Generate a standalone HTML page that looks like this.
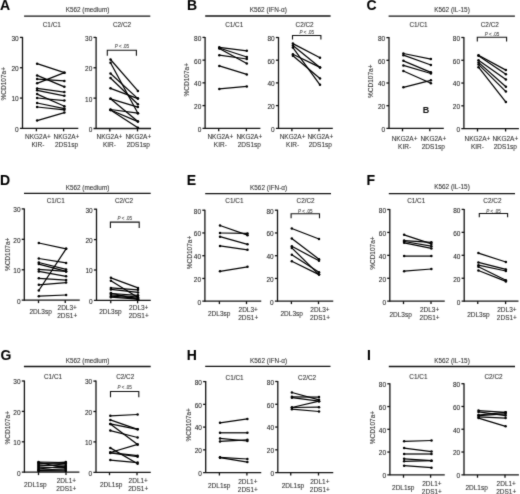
<!DOCTYPE html><html><head><meta charset="utf-8"><style>html,body{margin:0;padding:0;background:#fff;}svg{display:block;will-change:transform;}text{font-family:"Liberation Sans", sans-serif;stroke:#444;stroke-width:0.1px;}</style></head><body>
<svg width="520" height="494" viewBox="0 0 520 494">
<defs><filter id="bl" x="0" y="0" width="100%" height="100%" color-interpolation-filters="sRGB"><feConvolveMatrix order="3" kernelMatrix="0.02 0.08 0.02 0.08 0.6 0.08 0.02 0.08 0.02" divisor="1" edgeMode="duplicate"/></filter></defs><g filter="url(#bl)">
<rect width="520" height="494" fill="#fff"/>
<text x="0.00" y="9.60" font-size="14.0" font-weight="bold" fill="#000" stroke="#000" stroke-width="0.15">A</text>
<text x="87.50" y="11.74" font-size="6.4" text-anchor="middle" fill="#333">K562 (medium)</text>
<line x1="24.10" y1="16.10" x2="150.30" y2="16.10" stroke="#111" stroke-width="1.3"/>
<text x="51.80" y="26.64" font-size="6.4" text-anchor="middle" fill="#333">C1/C1</text>
<text x="122.00" y="26.54" font-size="6.4" text-anchor="middle" fill="#333">C2/C2</text>
<text x="0" y="0" font-size="6.5" text-anchor="middle" fill="#333" transform="translate(5.97 83.70) rotate(-90)">%CD107a+</text>
<line x1="22.50" y1="36.90" x2="22.50" y2="128.90" stroke="#111" stroke-width="1.3"/>
<line x1="19.90" y1="128.40" x2="78.30" y2="128.40" stroke="#111" stroke-width="1.3"/>
<text x="18.70" y="131.78" font-size="6.5" text-anchor="end" fill="#222">0</text>
<line x1="19.90" y1="98.07" x2="22.50" y2="98.07" stroke="#111" stroke-width="1.3"/>
<text x="18.70" y="101.44" font-size="6.5" text-anchor="end" fill="#222">10</text>
<line x1="19.90" y1="67.73" x2="22.50" y2="67.73" stroke="#111" stroke-width="1.3"/>
<text x="18.70" y="71.11" font-size="6.5" text-anchor="end" fill="#222">20</text>
<line x1="19.90" y1="37.40" x2="22.50" y2="37.40" stroke="#111" stroke-width="1.3"/>
<text x="18.70" y="40.78" font-size="6.5" text-anchor="end" fill="#222">30</text>
<line x1="36.40" y1="128.40" x2="36.40" y2="131.30" stroke="#111" stroke-width="1.3"/>
<line x1="63.60" y1="128.40" x2="63.60" y2="131.30" stroke="#111" stroke-width="1.3"/>
<line x1="37.10" y1="63.70" x2="64.40" y2="72.65" stroke="#000" stroke-width="1.25"/>
<line x1="37.10" y1="75.40" x2="64.40" y2="86.80" stroke="#000" stroke-width="1.25"/>
<line x1="37.10" y1="79.10" x2="64.40" y2="80.90" stroke="#000" stroke-width="1.25"/>
<line x1="37.10" y1="83.30" x2="64.40" y2="72.65" stroke="#000" stroke-width="1.25"/>
<line x1="37.10" y1="88.40" x2="64.40" y2="92.10" stroke="#000" stroke-width="1.25"/>
<line x1="37.10" y1="90.30" x2="64.40" y2="95.80" stroke="#000" stroke-width="1.25"/>
<line x1="37.10" y1="94.10" x2="64.40" y2="106.30" stroke="#000" stroke-width="1.25"/>
<line x1="37.10" y1="98.00" x2="64.40" y2="100.60" stroke="#000" stroke-width="1.25"/>
<line x1="37.10" y1="103.00" x2="64.40" y2="108.60" stroke="#000" stroke-width="1.25"/>
<line x1="37.10" y1="107.00" x2="64.40" y2="109.80" stroke="#000" stroke-width="1.25"/>
<line x1="37.10" y1="120.60" x2="64.40" y2="112.60" stroke="#000" stroke-width="1.25"/>
<circle cx="37.10" cy="63.70" r="1.25" fill="#000"/>
<circle cx="64.40" cy="72.65" r="1.25" fill="#000"/>
<circle cx="37.10" cy="75.40" r="1.25" fill="#000"/>
<circle cx="64.40" cy="86.80" r="1.25" fill="#000"/>
<circle cx="37.10" cy="79.10" r="1.25" fill="#000"/>
<circle cx="64.40" cy="80.90" r="1.25" fill="#000"/>
<circle cx="37.10" cy="83.30" r="1.25" fill="#000"/>
<circle cx="64.40" cy="72.65" r="1.25" fill="#000"/>
<circle cx="37.10" cy="88.40" r="1.25" fill="#000"/>
<circle cx="64.40" cy="92.10" r="1.25" fill="#000"/>
<circle cx="37.10" cy="90.30" r="1.25" fill="#000"/>
<circle cx="64.40" cy="95.80" r="1.25" fill="#000"/>
<circle cx="37.10" cy="94.10" r="1.25" fill="#000"/>
<circle cx="64.40" cy="106.30" r="1.25" fill="#000"/>
<circle cx="37.10" cy="98.00" r="1.25" fill="#000"/>
<circle cx="64.40" cy="100.60" r="1.25" fill="#000"/>
<circle cx="37.10" cy="103.00" r="1.25" fill="#000"/>
<circle cx="64.40" cy="108.60" r="1.25" fill="#000"/>
<circle cx="37.10" cy="107.00" r="1.25" fill="#000"/>
<circle cx="64.40" cy="109.80" r="1.25" fill="#000"/>
<circle cx="37.10" cy="120.60" r="1.25" fill="#000"/>
<circle cx="64.40" cy="112.60" r="1.25" fill="#000"/>
<text x="37.90" y="139.18" font-size="6.5" text-anchor="middle" fill="#333">NKG2A+</text>
<text x="37.90" y="147.18" font-size="6.5" text-anchor="middle" fill="#333">KIR-</text>
<text x="66.50" y="139.18" font-size="6.5" text-anchor="middle" fill="#333">NKG2A+</text>
<text x="66.50" y="147.18" font-size="6.5" text-anchor="middle" fill="#333">2DS1sp</text>
<line x1="96.10" y1="36.90" x2="96.10" y2="129.00" stroke="#111" stroke-width="1.3"/>
<line x1="93.50" y1="128.50" x2="151.00" y2="128.50" stroke="#111" stroke-width="1.3"/>
<text x="92.30" y="131.88" font-size="6.5" text-anchor="end" fill="#222">0</text>
<line x1="93.50" y1="98.13" x2="96.10" y2="98.13" stroke="#111" stroke-width="1.3"/>
<text x="92.30" y="101.51" font-size="6.5" text-anchor="end" fill="#222">10</text>
<line x1="93.50" y1="67.77" x2="96.10" y2="67.77" stroke="#111" stroke-width="1.3"/>
<text x="92.30" y="71.14" font-size="6.5" text-anchor="end" fill="#222">20</text>
<line x1="93.50" y1="37.40" x2="96.10" y2="37.40" stroke="#111" stroke-width="1.3"/>
<text x="92.30" y="40.78" font-size="6.5" text-anchor="end" fill="#222">30</text>
<line x1="109.80" y1="128.50" x2="109.80" y2="131.40" stroke="#111" stroke-width="1.3"/>
<line x1="137.50" y1="128.50" x2="137.50" y2="131.40" stroke="#111" stroke-width="1.3"/>
<line x1="110.50" y1="59.50" x2="137.90" y2="90.90" stroke="#000" stroke-width="1.25"/>
<line x1="110.50" y1="62.70" x2="137.90" y2="113.20" stroke="#000" stroke-width="1.25"/>
<line x1="110.50" y1="73.50" x2="137.90" y2="98.60" stroke="#000" stroke-width="1.25"/>
<line x1="110.50" y1="78.00" x2="137.90" y2="104.30" stroke="#000" stroke-width="1.25"/>
<line x1="110.50" y1="88.30" x2="137.90" y2="98.60" stroke="#000" stroke-width="1.25"/>
<line x1="110.50" y1="98.80" x2="137.90" y2="107.10" stroke="#000" stroke-width="1.25"/>
<line x1="110.50" y1="98.80" x2="137.90" y2="121.60" stroke="#000" stroke-width="1.25"/>
<line x1="110.50" y1="109.50" x2="137.90" y2="113.20" stroke="#000" stroke-width="1.25"/>
<line x1="110.50" y1="110.00" x2="137.90" y2="121.60" stroke="#000" stroke-width="1.25"/>
<line x1="110.50" y1="110.00" x2="137.90" y2="127.80" stroke="#000" stroke-width="1.25"/>
<circle cx="110.50" cy="59.50" r="1.25" fill="#000"/>
<circle cx="137.90" cy="90.90" r="1.25" fill="#000"/>
<circle cx="110.50" cy="62.70" r="1.25" fill="#000"/>
<circle cx="137.90" cy="113.20" r="1.25" fill="#000"/>
<circle cx="110.50" cy="73.50" r="1.25" fill="#000"/>
<circle cx="137.90" cy="98.60" r="1.25" fill="#000"/>
<circle cx="110.50" cy="78.00" r="1.25" fill="#000"/>
<circle cx="137.90" cy="104.30" r="1.25" fill="#000"/>
<circle cx="110.50" cy="88.30" r="1.25" fill="#000"/>
<circle cx="137.90" cy="98.60" r="1.25" fill="#000"/>
<circle cx="110.50" cy="98.80" r="1.25" fill="#000"/>
<circle cx="137.90" cy="107.10" r="1.25" fill="#000"/>
<circle cx="110.50" cy="98.80" r="1.25" fill="#000"/>
<circle cx="137.90" cy="121.60" r="1.25" fill="#000"/>
<circle cx="110.50" cy="109.50" r="1.25" fill="#000"/>
<circle cx="137.90" cy="113.20" r="1.25" fill="#000"/>
<circle cx="110.50" cy="110.00" r="1.25" fill="#000"/>
<circle cx="137.90" cy="121.60" r="1.25" fill="#000"/>
<circle cx="110.50" cy="110.00" r="1.25" fill="#000"/>
<circle cx="137.90" cy="127.80" r="1.25" fill="#000"/>
<text x="109.40" y="139.18" font-size="6.5" text-anchor="middle" fill="#333">NKG2A+</text>
<text x="109.40" y="147.18" font-size="6.5" text-anchor="middle" fill="#333">KIR-</text>
<text x="138.30" y="139.18" font-size="6.5" text-anchor="middle" fill="#333">NKG2A+</text>
<text x="138.30" y="147.18" font-size="6.5" text-anchor="middle" fill="#333">2DS1sp</text>
<polyline points="107.30,55.80 107.30,50.30 136.40,50.30 136.40,55.80" fill="none" stroke="#111" stroke-width="1.1"/>
<text x="121.85" y="48.28" font-size="4.5" text-anchor="middle" fill="#444" style="stroke:#666;stroke-width:0.12px"><tspan font-style="italic">P</tspan> &lt; .05</text>
<text x="187.00" y="9.60" font-size="14.0" font-weight="bold" fill="#000" stroke="#000" stroke-width="0.15">B</text>
<text x="268.30" y="11.84" font-size="6.4" text-anchor="middle" fill="#333">K562 (IFN-α)</text>
<line x1="205.20" y1="16.00" x2="330.60" y2="16.00" stroke="#111" stroke-width="1.3"/>
<text x="234.20" y="26.84" font-size="6.4" text-anchor="middle" fill="#333">C1/C1</text>
<text x="304.60" y="26.84" font-size="6.4" text-anchor="middle" fill="#333">C2/C2</text>
<text x="0" y="0" font-size="6.5" text-anchor="middle" fill="#333" transform="translate(189.18 79.70) rotate(-90)">%CD107a+</text>
<line x1="205.10" y1="36.90" x2="205.10" y2="128.80" stroke="#111" stroke-width="1.3"/>
<line x1="202.50" y1="128.30" x2="260.40" y2="128.30" stroke="#111" stroke-width="1.3"/>
<text x="201.30" y="131.68" font-size="6.5" text-anchor="end" fill="#222">0</text>
<line x1="202.50" y1="105.58" x2="205.10" y2="105.58" stroke="#111" stroke-width="1.3"/>
<text x="201.30" y="108.95" font-size="6.5" text-anchor="end" fill="#222">20</text>
<line x1="202.50" y1="82.85" x2="205.10" y2="82.85" stroke="#111" stroke-width="1.3"/>
<text x="201.30" y="86.23" font-size="6.5" text-anchor="end" fill="#222">40</text>
<line x1="202.50" y1="60.13" x2="205.10" y2="60.13" stroke="#111" stroke-width="1.3"/>
<text x="201.30" y="63.50" font-size="6.5" text-anchor="end" fill="#222">60</text>
<line x1="202.50" y1="37.40" x2="205.10" y2="37.40" stroke="#111" stroke-width="1.3"/>
<text x="201.30" y="40.78" font-size="6.5" text-anchor="end" fill="#222">80</text>
<line x1="218.70" y1="128.30" x2="218.70" y2="131.20" stroke="#111" stroke-width="1.3"/>
<line x1="246.40" y1="128.30" x2="246.40" y2="131.20" stroke="#111" stroke-width="1.3"/>
<line x1="219.30" y1="47.30" x2="246.80" y2="50.80" stroke="#000" stroke-width="1.25"/>
<line x1="219.30" y1="48.00" x2="246.80" y2="57.00" stroke="#000" stroke-width="1.25"/>
<line x1="219.30" y1="48.50" x2="246.80" y2="63.50" stroke="#000" stroke-width="1.25"/>
<line x1="219.30" y1="55.20" x2="246.80" y2="59.00" stroke="#000" stroke-width="1.25"/>
<line x1="219.30" y1="65.90" x2="246.80" y2="74.40" stroke="#000" stroke-width="1.25"/>
<line x1="219.30" y1="88.90" x2="246.80" y2="86.40" stroke="#000" stroke-width="1.25"/>
<circle cx="219.30" cy="47.30" r="1.25" fill="#000"/>
<circle cx="246.80" cy="50.80" r="1.25" fill="#000"/>
<circle cx="219.30" cy="48.00" r="1.25" fill="#000"/>
<circle cx="246.80" cy="57.00" r="1.25" fill="#000"/>
<circle cx="219.30" cy="48.50" r="1.25" fill="#000"/>
<circle cx="246.80" cy="63.50" r="1.25" fill="#000"/>
<circle cx="219.30" cy="55.20" r="1.25" fill="#000"/>
<circle cx="246.80" cy="59.00" r="1.25" fill="#000"/>
<circle cx="219.30" cy="65.90" r="1.25" fill="#000"/>
<circle cx="246.80" cy="74.40" r="1.25" fill="#000"/>
<circle cx="219.30" cy="88.90" r="1.25" fill="#000"/>
<circle cx="246.80" cy="86.40" r="1.25" fill="#000"/>
<text x="220.30" y="139.08" font-size="6.5" text-anchor="middle" fill="#333">NKG2A+</text>
<text x="220.30" y="147.28" font-size="6.5" text-anchor="middle" fill="#333">KIR-</text>
<text x="249.30" y="139.08" font-size="6.5" text-anchor="middle" fill="#333">NKG2A+</text>
<text x="249.30" y="147.28" font-size="6.5" text-anchor="middle" fill="#333">2DS1sp</text>
<line x1="278.50" y1="37.00" x2="278.50" y2="128.80" stroke="#111" stroke-width="1.3"/>
<line x1="275.90" y1="128.30" x2="332.80" y2="128.30" stroke="#111" stroke-width="1.3"/>
<text x="274.70" y="131.68" font-size="6.5" text-anchor="end" fill="#222">0</text>
<line x1="275.90" y1="105.60" x2="278.50" y2="105.60" stroke="#111" stroke-width="1.3"/>
<text x="274.70" y="108.98" font-size="6.5" text-anchor="end" fill="#222">20</text>
<line x1="275.90" y1="82.90" x2="278.50" y2="82.90" stroke="#111" stroke-width="1.3"/>
<text x="274.70" y="86.28" font-size="6.5" text-anchor="end" fill="#222">40</text>
<line x1="275.90" y1="60.20" x2="278.50" y2="60.20" stroke="#111" stroke-width="1.3"/>
<text x="274.70" y="63.58" font-size="6.5" text-anchor="end" fill="#222">60</text>
<line x1="275.90" y1="37.50" x2="278.50" y2="37.50" stroke="#111" stroke-width="1.3"/>
<text x="274.70" y="40.88" font-size="6.5" text-anchor="end" fill="#222">80</text>
<line x1="291.90" y1="128.30" x2="291.90" y2="131.20" stroke="#111" stroke-width="1.3"/>
<line x1="319.00" y1="128.30" x2="319.00" y2="131.20" stroke="#111" stroke-width="1.3"/>
<line x1="292.90" y1="43.60" x2="320.00" y2="57.80" stroke="#000" stroke-width="1.25"/>
<line x1="292.90" y1="45.60" x2="320.00" y2="67.40" stroke="#000" stroke-width="1.25"/>
<line x1="292.90" y1="47.60" x2="320.00" y2="84.80" stroke="#000" stroke-width="1.25"/>
<line x1="292.90" y1="54.20" x2="320.00" y2="67.40" stroke="#000" stroke-width="1.25"/>
<line x1="292.90" y1="55.70" x2="320.00" y2="78.50" stroke="#000" stroke-width="1.25"/>
<circle cx="292.90" cy="43.60" r="1.25" fill="#000"/>
<circle cx="320.00" cy="57.80" r="1.25" fill="#000"/>
<circle cx="292.90" cy="45.60" r="1.25" fill="#000"/>
<circle cx="320.00" cy="67.40" r="1.25" fill="#000"/>
<circle cx="292.90" cy="47.60" r="1.25" fill="#000"/>
<circle cx="320.00" cy="84.80" r="1.25" fill="#000"/>
<circle cx="292.90" cy="54.20" r="1.25" fill="#000"/>
<circle cx="320.00" cy="67.40" r="1.25" fill="#000"/>
<circle cx="292.90" cy="55.70" r="1.25" fill="#000"/>
<circle cx="320.00" cy="78.50" r="1.25" fill="#000"/>
<text x="292.60" y="139.08" font-size="6.5" text-anchor="middle" fill="#333">NKG2A+</text>
<text x="292.60" y="147.28" font-size="6.5" text-anchor="middle" fill="#333">KIR-</text>
<text x="320.30" y="139.08" font-size="6.5" text-anchor="middle" fill="#333">NKG2A+</text>
<text x="320.30" y="147.28" font-size="6.5" text-anchor="middle" fill="#333">2DS1sp</text>
<polyline points="292.50,39.50 292.50,35.50 320.90,35.50 320.90,39.50" fill="none" stroke="#111" stroke-width="1.1"/>
<text x="306.70" y="34.48" font-size="4.5" text-anchor="middle" fill="#444" style="stroke:#666;stroke-width:0.12px"><tspan font-style="italic">P</tspan> &lt; .05</text>
<text x="366.60" y="9.60" font-size="14.0" font-weight="bold" fill="#000" stroke="#000" stroke-width="0.15">C</text>
<text x="452.00" y="11.94" font-size="6.4" text-anchor="middle" fill="#333">K562 (IL-15)</text>
<line x1="388.60" y1="16.10" x2="514.90" y2="16.10" stroke="#111" stroke-width="1.3"/>
<text x="418.50" y="26.54" font-size="6.4" text-anchor="middle" fill="#333">C1/C1</text>
<text x="489.80" y="26.54" font-size="6.4" text-anchor="middle" fill="#333">C2/C2</text>
<text x="0" y="0" font-size="6.5" text-anchor="middle" fill="#333" transform="translate(372.77 81.20) rotate(-90)">%CD107a+</text>
<line x1="389.00" y1="37.10" x2="389.00" y2="128.90" stroke="#111" stroke-width="1.3"/>
<line x1="386.40" y1="128.40" x2="443.80" y2="128.40" stroke="#111" stroke-width="1.3"/>
<text x="385.20" y="131.78" font-size="6.5" text-anchor="end" fill="#222">0</text>
<line x1="386.40" y1="105.70" x2="389.00" y2="105.70" stroke="#111" stroke-width="1.3"/>
<text x="385.20" y="109.08" font-size="6.5" text-anchor="end" fill="#222">20</text>
<line x1="386.40" y1="83.00" x2="389.00" y2="83.00" stroke="#111" stroke-width="1.3"/>
<text x="385.20" y="86.38" font-size="6.5" text-anchor="end" fill="#222">40</text>
<line x1="386.40" y1="60.30" x2="389.00" y2="60.30" stroke="#111" stroke-width="1.3"/>
<text x="385.20" y="63.67" font-size="6.5" text-anchor="end" fill="#222">60</text>
<line x1="386.40" y1="37.60" x2="389.00" y2="37.60" stroke="#111" stroke-width="1.3"/>
<text x="385.20" y="40.97" font-size="6.5" text-anchor="end" fill="#222">80</text>
<line x1="402.50" y1="128.40" x2="402.50" y2="131.30" stroke="#111" stroke-width="1.3"/>
<line x1="429.80" y1="128.40" x2="429.80" y2="131.30" stroke="#111" stroke-width="1.3"/>
<line x1="403.40" y1="53.50" x2="430.90" y2="59.10" stroke="#000" stroke-width="1.25"/>
<line x1="403.40" y1="55.20" x2="430.90" y2="65.00" stroke="#000" stroke-width="1.25"/>
<line x1="403.40" y1="60.80" x2="430.90" y2="72.30" stroke="#000" stroke-width="1.25"/>
<line x1="403.40" y1="65.40" x2="430.90" y2="73.50" stroke="#000" stroke-width="1.25"/>
<line x1="403.40" y1="71.00" x2="430.90" y2="83.30" stroke="#000" stroke-width="1.25"/>
<line x1="403.40" y1="87.30" x2="430.90" y2="80.30" stroke="#000" stroke-width="1.25"/>
<circle cx="403.40" cy="53.50" r="1.25" fill="#000"/>
<circle cx="430.90" cy="59.10" r="1.25" fill="#000"/>
<circle cx="403.40" cy="55.20" r="1.25" fill="#000"/>
<circle cx="430.90" cy="65.00" r="1.25" fill="#000"/>
<circle cx="403.40" cy="60.80" r="1.25" fill="#000"/>
<circle cx="430.90" cy="72.30" r="1.25" fill="#000"/>
<circle cx="403.40" cy="65.40" r="1.25" fill="#000"/>
<circle cx="430.90" cy="73.50" r="1.25" fill="#000"/>
<circle cx="403.40" cy="71.00" r="1.25" fill="#000"/>
<circle cx="430.90" cy="83.30" r="1.25" fill="#000"/>
<circle cx="403.40" cy="87.30" r="1.25" fill="#000"/>
<circle cx="430.90" cy="80.30" r="1.25" fill="#000"/>
<text x="404.60" y="141.08" font-size="6.5" text-anchor="middle" fill="#333">NKG2A+</text>
<text x="404.60" y="149.08" font-size="6.5" text-anchor="middle" fill="#333">KIR-</text>
<text x="433.30" y="141.08" font-size="6.5" text-anchor="middle" fill="#333">NKG2A+</text>
<text x="433.30" y="149.08" font-size="6.5" text-anchor="middle" fill="#333">2DS1sp</text>
<line x1="463.90" y1="37.00" x2="463.90" y2="129.10" stroke="#111" stroke-width="1.3"/>
<line x1="461.30" y1="128.60" x2="518.90" y2="128.60" stroke="#111" stroke-width="1.3"/>
<text x="460.10" y="131.97" font-size="6.5" text-anchor="end" fill="#222">0</text>
<line x1="461.30" y1="105.82" x2="463.90" y2="105.82" stroke="#111" stroke-width="1.3"/>
<text x="460.10" y="109.20" font-size="6.5" text-anchor="end" fill="#222">20</text>
<line x1="461.30" y1="83.05" x2="463.90" y2="83.05" stroke="#111" stroke-width="1.3"/>
<text x="460.10" y="86.42" font-size="6.5" text-anchor="end" fill="#222">40</text>
<line x1="461.30" y1="60.27" x2="463.90" y2="60.27" stroke="#111" stroke-width="1.3"/>
<text x="460.10" y="63.65" font-size="6.5" text-anchor="end" fill="#222">60</text>
<line x1="461.30" y1="37.50" x2="463.90" y2="37.50" stroke="#111" stroke-width="1.3"/>
<text x="460.10" y="40.88" font-size="6.5" text-anchor="end" fill="#222">80</text>
<line x1="477.50" y1="128.60" x2="477.50" y2="131.50" stroke="#111" stroke-width="1.3"/>
<line x1="505.60" y1="128.60" x2="505.60" y2="131.50" stroke="#111" stroke-width="1.3"/>
<line x1="478.50" y1="55.30" x2="505.90" y2="70.10" stroke="#000" stroke-width="1.25"/>
<line x1="478.50" y1="55.80" x2="505.90" y2="74.20" stroke="#000" stroke-width="1.25"/>
<line x1="478.50" y1="60.20" x2="505.90" y2="79.40" stroke="#000" stroke-width="1.25"/>
<line x1="478.50" y1="62.40" x2="505.90" y2="86.70" stroke="#000" stroke-width="1.25"/>
<line x1="478.50" y1="64.40" x2="505.90" y2="91.60" stroke="#000" stroke-width="1.25"/>
<line x1="478.50" y1="67.20" x2="505.90" y2="102.10" stroke="#000" stroke-width="1.25"/>
<circle cx="478.50" cy="55.30" r="1.25" fill="#000"/>
<circle cx="505.90" cy="70.10" r="1.25" fill="#000"/>
<circle cx="478.50" cy="55.80" r="1.25" fill="#000"/>
<circle cx="505.90" cy="74.20" r="1.25" fill="#000"/>
<circle cx="478.50" cy="60.20" r="1.25" fill="#000"/>
<circle cx="505.90" cy="79.40" r="1.25" fill="#000"/>
<circle cx="478.50" cy="62.40" r="1.25" fill="#000"/>
<circle cx="505.90" cy="86.70" r="1.25" fill="#000"/>
<circle cx="478.50" cy="64.40" r="1.25" fill="#000"/>
<circle cx="505.90" cy="91.60" r="1.25" fill="#000"/>
<circle cx="478.50" cy="67.20" r="1.25" fill="#000"/>
<circle cx="505.90" cy="102.10" r="1.25" fill="#000"/>
<text x="477.40" y="141.08" font-size="6.5" text-anchor="middle" fill="#333">NKG2A+</text>
<text x="477.40" y="149.08" font-size="6.5" text-anchor="middle" fill="#333">KIR-</text>
<text x="505.30" y="141.08" font-size="6.5" text-anchor="middle" fill="#333">NKG2A+</text>
<text x="505.30" y="149.08" font-size="6.5" text-anchor="middle" fill="#333">2DS1sp</text>
<polyline points="477.30,41.50 477.30,37.20 506.60,37.20 506.60,41.50" fill="none" stroke="#111" stroke-width="1.1"/>
<text x="491.95" y="36.18" font-size="4.5" text-anchor="middle" fill="#444" style="stroke:#666;stroke-width:0.12px"><tspan font-style="italic">P</tspan> &lt; .05</text>
<text x="0.00" y="185.00" font-size="14.0" font-weight="bold" fill="#000" stroke="#000" stroke-width="0.15">D</text>
<text x="87.50" y="189.84" font-size="6.4" text-anchor="middle" fill="#333">K562 (medium)</text>
<line x1="24.00" y1="193.40" x2="150.70" y2="193.40" stroke="#111" stroke-width="1.3"/>
<text x="55.70" y="202.74" font-size="6.4" text-anchor="middle" fill="#333">C1/C1</text>
<text x="124.00" y="202.64" font-size="6.4" text-anchor="middle" fill="#333">C2/C2</text>
<text x="0" y="0" font-size="6.5" text-anchor="middle" fill="#333" transform="translate(10.07 254.40) rotate(-90)">%CD107a+</text>
<line x1="24.30" y1="208.40" x2="24.30" y2="300.70" stroke="#111" stroke-width="1.3"/>
<line x1="21.70" y1="300.20" x2="79.75" y2="300.20" stroke="#111" stroke-width="1.3"/>
<text x="20.50" y="303.57" font-size="6.5" text-anchor="end" fill="#222">0</text>
<line x1="21.70" y1="269.77" x2="24.30" y2="269.77" stroke="#111" stroke-width="1.3"/>
<text x="20.50" y="273.14" font-size="6.5" text-anchor="end" fill="#222">10</text>
<line x1="21.70" y1="239.33" x2="24.30" y2="239.33" stroke="#111" stroke-width="1.3"/>
<text x="20.50" y="242.71" font-size="6.5" text-anchor="end" fill="#222">20</text>
<line x1="21.70" y1="208.90" x2="24.30" y2="208.90" stroke="#111" stroke-width="1.3"/>
<text x="20.50" y="212.28" font-size="6.5" text-anchor="end" fill="#222">30</text>
<line x1="38.50" y1="300.20" x2="38.50" y2="303.10" stroke="#111" stroke-width="1.3"/>
<line x1="65.25" y1="300.20" x2="65.25" y2="303.10" stroke="#111" stroke-width="1.3"/>
<line x1="38.80" y1="243.00" x2="66.10" y2="248.80" stroke="#000" stroke-width="1.25"/>
<line x1="38.80" y1="258.50" x2="66.10" y2="262.90" stroke="#000" stroke-width="1.25"/>
<line x1="38.80" y1="262.50" x2="66.10" y2="269.40" stroke="#000" stroke-width="1.25"/>
<line x1="38.80" y1="264.10" x2="66.10" y2="271.40" stroke="#000" stroke-width="1.25"/>
<line x1="38.80" y1="269.40" x2="66.10" y2="271.40" stroke="#000" stroke-width="1.25"/>
<line x1="38.80" y1="271.40" x2="66.10" y2="276.30" stroke="#000" stroke-width="1.25"/>
<line x1="38.80" y1="278.30" x2="66.10" y2="280.10" stroke="#000" stroke-width="1.25"/>
<line x1="38.80" y1="284.80" x2="66.10" y2="282.60" stroke="#000" stroke-width="1.25"/>
<line x1="38.80" y1="290.50" x2="66.10" y2="248.80" stroke="#000" stroke-width="1.25"/>
<line x1="38.80" y1="296.20" x2="66.10" y2="295.00" stroke="#000" stroke-width="1.25"/>
<circle cx="38.80" cy="243.00" r="1.25" fill="#000"/>
<circle cx="66.10" cy="248.80" r="1.25" fill="#000"/>
<circle cx="38.80" cy="258.50" r="1.25" fill="#000"/>
<circle cx="66.10" cy="262.90" r="1.25" fill="#000"/>
<circle cx="38.80" cy="262.50" r="1.25" fill="#000"/>
<circle cx="66.10" cy="269.40" r="1.25" fill="#000"/>
<circle cx="38.80" cy="264.10" r="1.25" fill="#000"/>
<circle cx="66.10" cy="271.40" r="1.25" fill="#000"/>
<circle cx="38.80" cy="269.40" r="1.25" fill="#000"/>
<circle cx="66.10" cy="271.40" r="1.25" fill="#000"/>
<circle cx="38.80" cy="271.40" r="1.25" fill="#000"/>
<circle cx="66.10" cy="276.30" r="1.25" fill="#000"/>
<circle cx="38.80" cy="278.30" r="1.25" fill="#000"/>
<circle cx="66.10" cy="280.10" r="1.25" fill="#000"/>
<circle cx="38.80" cy="284.80" r="1.25" fill="#000"/>
<circle cx="66.10" cy="282.60" r="1.25" fill="#000"/>
<circle cx="38.80" cy="290.50" r="1.25" fill="#000"/>
<circle cx="66.10" cy="248.80" r="1.25" fill="#000"/>
<circle cx="38.80" cy="296.20" r="1.25" fill="#000"/>
<circle cx="66.10" cy="295.00" r="1.25" fill="#000"/>
<text x="40.60" y="314.27" font-size="6.5" text-anchor="middle" fill="#333">2DL3sp</text>
<text x="67.20" y="310.27" font-size="6.5" text-anchor="middle" fill="#333">2DL3+</text>
<text x="67.20" y="317.77" font-size="6.5" text-anchor="middle" fill="#333">2DS1+</text>
<line x1="96.50" y1="208.70" x2="96.50" y2="300.90" stroke="#111" stroke-width="1.3"/>
<line x1="93.90" y1="300.40" x2="150.75" y2="300.40" stroke="#111" stroke-width="1.3"/>
<text x="92.70" y="303.77" font-size="6.5" text-anchor="end" fill="#222">0</text>
<line x1="93.90" y1="270.00" x2="96.50" y2="270.00" stroke="#111" stroke-width="1.3"/>
<text x="92.70" y="273.38" font-size="6.5" text-anchor="end" fill="#222">10</text>
<line x1="93.90" y1="239.60" x2="96.50" y2="239.60" stroke="#111" stroke-width="1.3"/>
<text x="92.70" y="242.97" font-size="6.5" text-anchor="end" fill="#222">20</text>
<line x1="93.90" y1="209.20" x2="96.50" y2="209.20" stroke="#111" stroke-width="1.3"/>
<text x="92.70" y="212.57" font-size="6.5" text-anchor="end" fill="#222">30</text>
<line x1="110.75" y1="300.40" x2="110.75" y2="303.30" stroke="#111" stroke-width="1.3"/>
<line x1="137.60" y1="300.40" x2="137.60" y2="303.30" stroke="#111" stroke-width="1.3"/>
<line x1="110.90" y1="277.80" x2="138.00" y2="287.90" stroke="#000" stroke-width="1.25"/>
<line x1="110.90" y1="280.80" x2="138.00" y2="297.50" stroke="#000" stroke-width="1.25"/>
<line x1="110.90" y1="287.90" x2="138.00" y2="289.80" stroke="#000" stroke-width="1.25"/>
<line x1="110.90" y1="289.40" x2="138.00" y2="292.40" stroke="#000" stroke-width="1.25"/>
<line x1="110.90" y1="293.50" x2="138.00" y2="295.30" stroke="#000" stroke-width="1.25"/>
<line x1="110.90" y1="294.80" x2="138.00" y2="297.00" stroke="#000" stroke-width="1.25"/>
<line x1="110.90" y1="296.20" x2="138.00" y2="298.20" stroke="#000" stroke-width="1.25"/>
<line x1="110.90" y1="297.20" x2="138.00" y2="299.20" stroke="#000" stroke-width="1.25"/>
<line x1="110.90" y1="293.00" x2="138.00" y2="299.50" stroke="#000" stroke-width="1.25"/>
<circle cx="110.90" cy="277.80" r="1.25" fill="#000"/>
<circle cx="138.00" cy="287.90" r="1.25" fill="#000"/>
<circle cx="110.90" cy="280.80" r="1.25" fill="#000"/>
<circle cx="138.00" cy="297.50" r="1.25" fill="#000"/>
<circle cx="110.90" cy="287.90" r="1.25" fill="#000"/>
<circle cx="138.00" cy="289.80" r="1.25" fill="#000"/>
<circle cx="110.90" cy="289.40" r="1.25" fill="#000"/>
<circle cx="138.00" cy="292.40" r="1.25" fill="#000"/>
<circle cx="110.90" cy="293.50" r="1.25" fill="#000"/>
<circle cx="138.00" cy="295.30" r="1.25" fill="#000"/>
<circle cx="110.90" cy="294.80" r="1.25" fill="#000"/>
<circle cx="138.00" cy="297.00" r="1.25" fill="#000"/>
<circle cx="110.90" cy="296.20" r="1.25" fill="#000"/>
<circle cx="138.00" cy="298.20" r="1.25" fill="#000"/>
<circle cx="110.90" cy="297.20" r="1.25" fill="#000"/>
<circle cx="138.00" cy="299.20" r="1.25" fill="#000"/>
<circle cx="110.90" cy="293.00" r="1.25" fill="#000"/>
<circle cx="138.00" cy="299.50" r="1.25" fill="#000"/>
<text x="110.40" y="314.27" font-size="6.5" text-anchor="middle" fill="#333">2DL3sp</text>
<text x="138.75" y="310.27" font-size="6.5" text-anchor="middle" fill="#333">2DL3+</text>
<text x="138.75" y="317.77" font-size="6.5" text-anchor="middle" fill="#333">2DS1+</text>
<polyline points="110.40,228.10 110.40,222.10 139.20,222.10 139.20,228.10" fill="none" stroke="#111" stroke-width="1.1"/>
<text x="124.80" y="219.77" font-size="4.5" text-anchor="middle" fill="#444" style="stroke:#666;stroke-width:0.12px"><tspan font-style="italic">P</tspan> &lt; .05</text>
<text x="186.80" y="184.70" font-size="14.0" font-weight="bold" fill="#000" stroke="#000" stroke-width="0.15">E</text>
<text x="268.60" y="189.64" font-size="6.4" text-anchor="middle" fill="#333">K562 (IFN-α)</text>
<line x1="205.20" y1="193.60" x2="331.00" y2="193.60" stroke="#111" stroke-width="1.3"/>
<text x="234.40" y="202.84" font-size="6.4" text-anchor="middle" fill="#333">C1/C1</text>
<text x="305.60" y="202.84" font-size="6.4" text-anchor="middle" fill="#333">C2/C2</text>
<text x="0" y="0" font-size="6.5" text-anchor="middle" fill="#333" transform="translate(191.58 252.50) rotate(-90)">%CD107a+</text>
<line x1="204.90" y1="209.70" x2="204.90" y2="301.70" stroke="#111" stroke-width="1.3"/>
<line x1="202.30" y1="301.20" x2="261.25" y2="301.20" stroke="#111" stroke-width="1.3"/>
<text x="201.10" y="304.57" font-size="6.5" text-anchor="end" fill="#222">0</text>
<line x1="202.30" y1="278.45" x2="204.90" y2="278.45" stroke="#111" stroke-width="1.3"/>
<text x="201.10" y="281.82" font-size="6.5" text-anchor="end" fill="#222">20</text>
<line x1="202.30" y1="255.70" x2="204.90" y2="255.70" stroke="#111" stroke-width="1.3"/>
<text x="201.10" y="259.07" font-size="6.5" text-anchor="end" fill="#222">40</text>
<line x1="202.30" y1="232.95" x2="204.90" y2="232.95" stroke="#111" stroke-width="1.3"/>
<text x="201.10" y="236.32" font-size="6.5" text-anchor="end" fill="#222">60</text>
<line x1="202.30" y1="210.20" x2="204.90" y2="210.20" stroke="#111" stroke-width="1.3"/>
<text x="201.10" y="213.57" font-size="6.5" text-anchor="end" fill="#222">80</text>
<line x1="219.40" y1="301.20" x2="219.40" y2="304.10" stroke="#111" stroke-width="1.3"/>
<line x1="246.50" y1="301.20" x2="246.50" y2="304.10" stroke="#111" stroke-width="1.3"/>
<line x1="220.00" y1="225.50" x2="247.50" y2="235.20" stroke="#000" stroke-width="1.25"/>
<line x1="220.00" y1="233.00" x2="247.50" y2="233.40" stroke="#000" stroke-width="1.25"/>
<line x1="220.00" y1="236.70" x2="247.50" y2="244.30" stroke="#000" stroke-width="1.25"/>
<line x1="220.00" y1="245.90" x2="247.50" y2="249.80" stroke="#000" stroke-width="1.25"/>
<line x1="220.00" y1="271.30" x2="247.50" y2="266.80" stroke="#000" stroke-width="1.25"/>
<circle cx="220.00" cy="225.50" r="1.25" fill="#000"/>
<circle cx="247.50" cy="235.20" r="1.25" fill="#000"/>
<circle cx="220.00" cy="233.00" r="1.25" fill="#000"/>
<circle cx="247.50" cy="233.40" r="1.25" fill="#000"/>
<circle cx="220.00" cy="236.70" r="1.25" fill="#000"/>
<circle cx="247.50" cy="244.30" r="1.25" fill="#000"/>
<circle cx="220.00" cy="245.90" r="1.25" fill="#000"/>
<circle cx="247.50" cy="249.80" r="1.25" fill="#000"/>
<circle cx="220.00" cy="271.30" r="1.25" fill="#000"/>
<circle cx="247.50" cy="266.80" r="1.25" fill="#000"/>
<text x="219.20" y="316.27" font-size="6.5" text-anchor="middle" fill="#333">2DL3sp</text>
<text x="248.20" y="312.17" font-size="6.5" text-anchor="middle" fill="#333">2DL3+</text>
<text x="248.20" y="319.67" font-size="6.5" text-anchor="middle" fill="#333">2DS1+</text>
<line x1="277.50" y1="209.70" x2="277.50" y2="301.70" stroke="#111" stroke-width="1.3"/>
<line x1="274.90" y1="301.20" x2="333.25" y2="301.20" stroke="#111" stroke-width="1.3"/>
<text x="273.70" y="304.57" font-size="6.5" text-anchor="end" fill="#222">0</text>
<line x1="274.90" y1="278.45" x2="277.50" y2="278.45" stroke="#111" stroke-width="1.3"/>
<text x="273.70" y="281.82" font-size="6.5" text-anchor="end" fill="#222">20</text>
<line x1="274.90" y1="255.70" x2="277.50" y2="255.70" stroke="#111" stroke-width="1.3"/>
<text x="273.70" y="259.07" font-size="6.5" text-anchor="end" fill="#222">40</text>
<line x1="274.90" y1="232.95" x2="277.50" y2="232.95" stroke="#111" stroke-width="1.3"/>
<text x="273.70" y="236.32" font-size="6.5" text-anchor="end" fill="#222">60</text>
<line x1="274.90" y1="210.20" x2="277.50" y2="210.20" stroke="#111" stroke-width="1.3"/>
<text x="273.70" y="213.57" font-size="6.5" text-anchor="end" fill="#222">80</text>
<line x1="291.40" y1="301.20" x2="291.40" y2="304.10" stroke="#111" stroke-width="1.3"/>
<line x1="318.50" y1="301.20" x2="318.50" y2="304.10" stroke="#111" stroke-width="1.3"/>
<line x1="291.80" y1="228.50" x2="319.00" y2="239.00" stroke="#000" stroke-width="1.25"/>
<line x1="291.80" y1="238.50" x2="319.00" y2="259.20" stroke="#000" stroke-width="1.25"/>
<line x1="291.80" y1="246.30" x2="319.00" y2="260.80" stroke="#000" stroke-width="1.25"/>
<line x1="291.80" y1="247.90" x2="319.00" y2="274.60" stroke="#000" stroke-width="1.25"/>
<line x1="291.80" y1="254.80" x2="319.00" y2="272.20" stroke="#000" stroke-width="1.25"/>
<line x1="291.80" y1="261.30" x2="319.00" y2="274.60" stroke="#000" stroke-width="1.25"/>
<circle cx="291.80" cy="228.50" r="1.25" fill="#000"/>
<circle cx="319.00" cy="239.00" r="1.25" fill="#000"/>
<circle cx="291.80" cy="238.50" r="1.25" fill="#000"/>
<circle cx="319.00" cy="259.20" r="1.25" fill="#000"/>
<circle cx="291.80" cy="246.30" r="1.25" fill="#000"/>
<circle cx="319.00" cy="260.80" r="1.25" fill="#000"/>
<circle cx="291.80" cy="247.90" r="1.25" fill="#000"/>
<circle cx="319.00" cy="274.60" r="1.25" fill="#000"/>
<circle cx="291.80" cy="254.80" r="1.25" fill="#000"/>
<circle cx="319.00" cy="272.20" r="1.25" fill="#000"/>
<circle cx="291.80" cy="261.30" r="1.25" fill="#000"/>
<circle cx="319.00" cy="274.60" r="1.25" fill="#000"/>
<text x="291.70" y="316.27" font-size="6.5" text-anchor="middle" fill="#333">2DL3sp</text>
<text x="320.00" y="312.17" font-size="6.5" text-anchor="middle" fill="#333">2DL3+</text>
<text x="320.00" y="319.67" font-size="6.5" text-anchor="middle" fill="#333">2DS1+</text>
<polyline points="291.10,218.20 291.10,213.80 319.50,213.80 319.50,218.20" fill="none" stroke="#111" stroke-width="1.1"/>
<text x="305.30" y="212.97" font-size="4.5" text-anchor="middle" fill="#444" style="stroke:#666;stroke-width:0.12px"><tspan font-style="italic">P</tspan> &lt; .05</text>
<text x="366.50" y="184.70" font-size="14.0" font-weight="bold" fill="#000" stroke="#000" stroke-width="0.15">F</text>
<text x="452.00" y="189.34" font-size="6.4" text-anchor="middle" fill="#333">K562 (IL-15)</text>
<line x1="388.80" y1="193.70" x2="515.00" y2="193.70" stroke="#111" stroke-width="1.3"/>
<text x="416.20" y="202.84" font-size="6.4" text-anchor="middle" fill="#333">C1/C1</text>
<text x="492.40" y="202.84" font-size="6.4" text-anchor="middle" fill="#333">C2/C2</text>
<text x="0" y="0" font-size="6.5" text-anchor="middle" fill="#333" transform="translate(375.17 253.10) rotate(-90)">%CD107a+</text>
<line x1="389.80" y1="209.00" x2="389.80" y2="301.70" stroke="#111" stroke-width="1.3"/>
<line x1="387.20" y1="301.20" x2="444.75" y2="301.20" stroke="#111" stroke-width="1.3"/>
<text x="386.00" y="304.57" font-size="6.5" text-anchor="end" fill="#222">0</text>
<line x1="387.20" y1="278.27" x2="389.80" y2="278.27" stroke="#111" stroke-width="1.3"/>
<text x="386.00" y="281.65" font-size="6.5" text-anchor="end" fill="#222">20</text>
<line x1="387.20" y1="255.35" x2="389.80" y2="255.35" stroke="#111" stroke-width="1.3"/>
<text x="386.00" y="258.72" font-size="6.5" text-anchor="end" fill="#222">40</text>
<line x1="387.20" y1="232.43" x2="389.80" y2="232.43" stroke="#111" stroke-width="1.3"/>
<text x="386.00" y="235.80" font-size="6.5" text-anchor="end" fill="#222">60</text>
<line x1="387.20" y1="209.50" x2="389.80" y2="209.50" stroke="#111" stroke-width="1.3"/>
<text x="386.00" y="212.88" font-size="6.5" text-anchor="end" fill="#222">80</text>
<line x1="403.50" y1="301.20" x2="403.50" y2="304.10" stroke="#111" stroke-width="1.3"/>
<line x1="431.00" y1="301.20" x2="431.00" y2="304.10" stroke="#111" stroke-width="1.3"/>
<line x1="404.10" y1="234.80" x2="431.40" y2="243.90" stroke="#000" stroke-width="1.25"/>
<line x1="404.10" y1="240.60" x2="431.40" y2="242.30" stroke="#000" stroke-width="1.25"/>
<line x1="404.10" y1="241.50" x2="431.40" y2="246.20" stroke="#000" stroke-width="1.25"/>
<line x1="404.10" y1="242.80" x2="431.40" y2="248.40" stroke="#000" stroke-width="1.25"/>
<line x1="404.10" y1="256.10" x2="431.40" y2="256.10" stroke="#000" stroke-width="1.25"/>
<line x1="404.10" y1="271.20" x2="431.40" y2="269.00" stroke="#000" stroke-width="1.25"/>
<circle cx="404.10" cy="234.80" r="1.25" fill="#000"/>
<circle cx="431.40" cy="243.90" r="1.25" fill="#000"/>
<circle cx="404.10" cy="240.60" r="1.25" fill="#000"/>
<circle cx="431.40" cy="242.30" r="1.25" fill="#000"/>
<circle cx="404.10" cy="241.50" r="1.25" fill="#000"/>
<circle cx="431.40" cy="246.20" r="1.25" fill="#000"/>
<circle cx="404.10" cy="242.80" r="1.25" fill="#000"/>
<circle cx="431.40" cy="248.40" r="1.25" fill="#000"/>
<circle cx="404.10" cy="256.10" r="1.25" fill="#000"/>
<circle cx="431.40" cy="256.10" r="1.25" fill="#000"/>
<circle cx="404.10" cy="271.20" r="1.25" fill="#000"/>
<circle cx="431.40" cy="269.00" r="1.25" fill="#000"/>
<text x="400.60" y="316.88" font-size="6.5" text-anchor="middle" fill="#333">2DL3sp</text>
<text x="429.60" y="312.17" font-size="6.5" text-anchor="middle" fill="#333">2DL3+</text>
<text x="429.60" y="319.67" font-size="6.5" text-anchor="middle" fill="#333">2DS1+</text>
<line x1="464.20" y1="208.90" x2="464.20" y2="301.70" stroke="#111" stroke-width="1.3"/>
<line x1="461.60" y1="301.20" x2="518.50" y2="301.20" stroke="#111" stroke-width="1.3"/>
<text x="460.40" y="304.57" font-size="6.5" text-anchor="end" fill="#222">0</text>
<line x1="461.60" y1="278.25" x2="464.20" y2="278.25" stroke="#111" stroke-width="1.3"/>
<text x="460.40" y="281.62" font-size="6.5" text-anchor="end" fill="#222">20</text>
<line x1="461.60" y1="255.30" x2="464.20" y2="255.30" stroke="#111" stroke-width="1.3"/>
<text x="460.40" y="258.68" font-size="6.5" text-anchor="end" fill="#222">40</text>
<line x1="461.60" y1="232.35" x2="464.20" y2="232.35" stroke="#111" stroke-width="1.3"/>
<text x="460.40" y="235.72" font-size="6.5" text-anchor="end" fill="#222">60</text>
<line x1="461.60" y1="209.40" x2="464.20" y2="209.40" stroke="#111" stroke-width="1.3"/>
<text x="460.40" y="212.78" font-size="6.5" text-anchor="end" fill="#222">80</text>
<line x1="477.75" y1="301.20" x2="477.75" y2="304.10" stroke="#111" stroke-width="1.3"/>
<line x1="505.60" y1="301.20" x2="505.60" y2="304.10" stroke="#111" stroke-width="1.3"/>
<line x1="478.40" y1="253.10" x2="505.90" y2="262.00" stroke="#000" stroke-width="1.25"/>
<line x1="478.40" y1="262.40" x2="505.90" y2="269.40" stroke="#000" stroke-width="1.25"/>
<line x1="478.40" y1="265.20" x2="505.90" y2="271.00" stroke="#000" stroke-width="1.25"/>
<line x1="478.40" y1="266.80" x2="505.90" y2="280.20" stroke="#000" stroke-width="1.25"/>
<line x1="478.40" y1="270.50" x2="505.90" y2="281.40" stroke="#000" stroke-width="1.25"/>
<circle cx="478.40" cy="253.10" r="1.25" fill="#000"/>
<circle cx="505.90" cy="262.00" r="1.25" fill="#000"/>
<circle cx="478.40" cy="262.40" r="1.25" fill="#000"/>
<circle cx="505.90" cy="269.40" r="1.25" fill="#000"/>
<circle cx="478.40" cy="265.20" r="1.25" fill="#000"/>
<circle cx="505.90" cy="271.00" r="1.25" fill="#000"/>
<circle cx="478.40" cy="266.80" r="1.25" fill="#000"/>
<circle cx="505.90" cy="280.20" r="1.25" fill="#000"/>
<circle cx="478.40" cy="270.50" r="1.25" fill="#000"/>
<circle cx="505.90" cy="281.40" r="1.25" fill="#000"/>
<text x="478.40" y="316.88" font-size="6.5" text-anchor="middle" fill="#333">2DL3sp</text>
<text x="506.90" y="312.17" font-size="6.5" text-anchor="middle" fill="#333">2DL3+</text>
<text x="506.90" y="319.67" font-size="6.5" text-anchor="middle" fill="#333">2DS1+</text>
<polyline points="479.30,217.30 479.30,213.50 507.60,213.50 507.60,217.30" fill="none" stroke="#111" stroke-width="1.1"/>
<text x="493.45" y="212.67" font-size="4.5" text-anchor="middle" fill="#444" style="stroke:#666;stroke-width:0.12px"><tspan font-style="italic">P</tspan> &lt; .05</text>
<text x="0.40" y="360.00" font-size="14.0" font-weight="bold" fill="#000" stroke="#000" stroke-width="0.15">G</text>
<text x="87.50" y="362.64" font-size="6.4" text-anchor="middle" fill="#333">K562 (medium)</text>
<line x1="23.90" y1="366.50" x2="150.70" y2="366.50" stroke="#111" stroke-width="1.3"/>
<text x="53.00" y="379.44" font-size="6.4" text-anchor="middle" fill="#333">C1/C1</text>
<text x="125.20" y="379.34" font-size="6.4" text-anchor="middle" fill="#333">C2/C2</text>
<text x="0" y="0" font-size="6.5" text-anchor="middle" fill="#333" transform="translate(9.68 427.70) rotate(-90)">%CD107a+</text>
<line x1="24.40" y1="380.50" x2="24.40" y2="472.70" stroke="#111" stroke-width="1.3"/>
<line x1="21.80" y1="472.20" x2="79.40" y2="472.20" stroke="#111" stroke-width="1.3"/>
<text x="20.60" y="475.57" font-size="6.5" text-anchor="end" fill="#222">0</text>
<line x1="21.80" y1="441.80" x2="24.40" y2="441.80" stroke="#111" stroke-width="1.3"/>
<text x="20.60" y="445.18" font-size="6.5" text-anchor="end" fill="#222">10</text>
<line x1="21.80" y1="411.40" x2="24.40" y2="411.40" stroke="#111" stroke-width="1.3"/>
<text x="20.60" y="414.77" font-size="6.5" text-anchor="end" fill="#222">20</text>
<line x1="21.80" y1="381.00" x2="24.40" y2="381.00" stroke="#111" stroke-width="1.3"/>
<text x="20.60" y="384.38" font-size="6.5" text-anchor="end" fill="#222">30</text>
<line x1="38.50" y1="472.20" x2="38.50" y2="475.10" stroke="#111" stroke-width="1.3"/>
<line x1="66.00" y1="472.20" x2="66.00" y2="475.10" stroke="#111" stroke-width="1.3"/>
<line x1="38.50" y1="462.00" x2="65.80" y2="462.50" stroke="#000" stroke-width="1.25"/>
<line x1="38.50" y1="463.00" x2="65.80" y2="463.50" stroke="#000" stroke-width="1.25"/>
<line x1="38.50" y1="464.00" x2="65.80" y2="462.00" stroke="#000" stroke-width="1.25"/>
<line x1="38.50" y1="465.00" x2="65.80" y2="466.00" stroke="#000" stroke-width="1.25"/>
<line x1="38.50" y1="466.00" x2="65.80" y2="464.00" stroke="#000" stroke-width="1.25"/>
<line x1="38.50" y1="467.00" x2="65.80" y2="468.00" stroke="#000" stroke-width="1.25"/>
<line x1="38.50" y1="468.00" x2="65.80" y2="467.00" stroke="#000" stroke-width="1.25"/>
<line x1="38.50" y1="469.00" x2="65.80" y2="466.00" stroke="#000" stroke-width="1.25"/>
<line x1="38.50" y1="470.00" x2="65.80" y2="469.00" stroke="#000" stroke-width="1.25"/>
<line x1="38.50" y1="470.50" x2="65.80" y2="470.00" stroke="#000" stroke-width="1.25"/>
<line x1="38.50" y1="471.00" x2="65.80" y2="471.00" stroke="#000" stroke-width="1.25"/>
<line x1="38.50" y1="462.50" x2="65.80" y2="468.00" stroke="#000" stroke-width="1.25"/>
<circle cx="38.50" cy="462.00" r="1.25" fill="#000"/>
<circle cx="65.80" cy="462.50" r="1.25" fill="#000"/>
<circle cx="38.50" cy="463.00" r="1.25" fill="#000"/>
<circle cx="65.80" cy="463.50" r="1.25" fill="#000"/>
<circle cx="38.50" cy="464.00" r="1.25" fill="#000"/>
<circle cx="65.80" cy="462.00" r="1.25" fill="#000"/>
<circle cx="38.50" cy="465.00" r="1.25" fill="#000"/>
<circle cx="65.80" cy="466.00" r="1.25" fill="#000"/>
<circle cx="38.50" cy="466.00" r="1.25" fill="#000"/>
<circle cx="65.80" cy="464.00" r="1.25" fill="#000"/>
<circle cx="38.50" cy="467.00" r="1.25" fill="#000"/>
<circle cx="65.80" cy="468.00" r="1.25" fill="#000"/>
<circle cx="38.50" cy="468.00" r="1.25" fill="#000"/>
<circle cx="65.80" cy="467.00" r="1.25" fill="#000"/>
<circle cx="38.50" cy="469.00" r="1.25" fill="#000"/>
<circle cx="65.80" cy="466.00" r="1.25" fill="#000"/>
<circle cx="38.50" cy="470.00" r="1.25" fill="#000"/>
<circle cx="65.80" cy="469.00" r="1.25" fill="#000"/>
<circle cx="38.50" cy="470.50" r="1.25" fill="#000"/>
<circle cx="65.80" cy="470.00" r="1.25" fill="#000"/>
<circle cx="38.50" cy="471.00" r="1.25" fill="#000"/>
<circle cx="65.80" cy="471.00" r="1.25" fill="#000"/>
<circle cx="38.50" cy="462.50" r="1.25" fill="#000"/>
<circle cx="65.80" cy="468.00" r="1.25" fill="#000"/>
<text x="35.30" y="487.02" font-size="6.5" text-anchor="middle" fill="#333">2DL1sp</text>
<text x="66.40" y="482.88" font-size="6.5" text-anchor="middle" fill="#333">2DL1+</text>
<text x="66.40" y="490.77" font-size="6.5" text-anchor="middle" fill="#333">2DS1+</text>
<line x1="96.00" y1="380.60" x2="96.00" y2="472.80" stroke="#111" stroke-width="1.3"/>
<line x1="93.40" y1="472.30" x2="150.75" y2="472.30" stroke="#111" stroke-width="1.3"/>
<text x="92.20" y="475.68" font-size="6.5" text-anchor="end" fill="#222">0</text>
<line x1="93.40" y1="441.90" x2="96.00" y2="441.90" stroke="#111" stroke-width="1.3"/>
<text x="92.20" y="445.28" font-size="6.5" text-anchor="end" fill="#222">10</text>
<line x1="93.40" y1="411.50" x2="96.00" y2="411.50" stroke="#111" stroke-width="1.3"/>
<text x="92.20" y="414.88" font-size="6.5" text-anchor="end" fill="#222">20</text>
<line x1="93.40" y1="381.10" x2="96.00" y2="381.10" stroke="#111" stroke-width="1.3"/>
<text x="92.20" y="384.48" font-size="6.5" text-anchor="end" fill="#222">30</text>
<line x1="109.50" y1="472.30" x2="109.50" y2="475.20" stroke="#111" stroke-width="1.3"/>
<line x1="137.00" y1="472.30" x2="137.00" y2="475.20" stroke="#111" stroke-width="1.3"/>
<line x1="110.30" y1="415.80" x2="137.60" y2="414.50" stroke="#000" stroke-width="1.25"/>
<line x1="110.30" y1="419.90" x2="137.60" y2="429.30" stroke="#000" stroke-width="1.25"/>
<line x1="110.30" y1="423.90" x2="137.60" y2="429.30" stroke="#000" stroke-width="1.25"/>
<line x1="110.30" y1="423.90" x2="137.60" y2="444.40" stroke="#000" stroke-width="1.25"/>
<line x1="110.30" y1="430.60" x2="137.60" y2="437.50" stroke="#000" stroke-width="1.25"/>
<line x1="110.30" y1="447.90" x2="137.60" y2="463.80" stroke="#000" stroke-width="1.25"/>
<line x1="110.30" y1="452.50" x2="137.60" y2="444.40" stroke="#000" stroke-width="1.25"/>
<line x1="110.30" y1="452.50" x2="137.60" y2="455.70" stroke="#000" stroke-width="1.25"/>
<line x1="110.30" y1="460.10" x2="137.60" y2="462.60" stroke="#000" stroke-width="1.25"/>
<line x1="110.30" y1="453.00" x2="137.60" y2="456.70" stroke="#000" stroke-width="1.25"/>
<circle cx="110.30" cy="415.80" r="1.25" fill="#000"/>
<circle cx="137.60" cy="414.50" r="1.25" fill="#000"/>
<circle cx="110.30" cy="419.90" r="1.25" fill="#000"/>
<circle cx="137.60" cy="429.30" r="1.25" fill="#000"/>
<circle cx="110.30" cy="423.90" r="1.25" fill="#000"/>
<circle cx="137.60" cy="429.30" r="1.25" fill="#000"/>
<circle cx="110.30" cy="423.90" r="1.25" fill="#000"/>
<circle cx="137.60" cy="444.40" r="1.25" fill="#000"/>
<circle cx="110.30" cy="430.60" r="1.25" fill="#000"/>
<circle cx="137.60" cy="437.50" r="1.25" fill="#000"/>
<circle cx="110.30" cy="447.90" r="1.25" fill="#000"/>
<circle cx="137.60" cy="463.80" r="1.25" fill="#000"/>
<circle cx="110.30" cy="452.50" r="1.25" fill="#000"/>
<circle cx="137.60" cy="444.40" r="1.25" fill="#000"/>
<circle cx="110.30" cy="452.50" r="1.25" fill="#000"/>
<circle cx="137.60" cy="455.70" r="1.25" fill="#000"/>
<circle cx="110.30" cy="460.10" r="1.25" fill="#000"/>
<circle cx="137.60" cy="462.60" r="1.25" fill="#000"/>
<circle cx="110.30" cy="453.00" r="1.25" fill="#000"/>
<circle cx="137.60" cy="456.70" r="1.25" fill="#000"/>
<text x="111.10" y="487.02" font-size="6.5" text-anchor="middle" fill="#333">2DL1sp</text>
<text x="138.25" y="482.88" font-size="6.5" text-anchor="middle" fill="#333">2DL1+</text>
<text x="138.25" y="490.77" font-size="6.5" text-anchor="middle" fill="#333">2DS1+</text>
<polyline points="110.50,397.30 110.50,391.50 138.80,391.50 138.80,397.30" fill="none" stroke="#111" stroke-width="1.1"/>
<text x="124.65" y="389.27" font-size="4.5" text-anchor="middle" fill="#444" style="stroke:#666;stroke-width:0.12px"><tspan font-style="italic">P</tspan> &lt; .05</text>
<text x="186.80" y="359.50" font-size="14.0" font-weight="bold" fill="#000" stroke="#000" stroke-width="0.15">H</text>
<text x="268.60" y="362.54" font-size="6.4" text-anchor="middle" fill="#333">K562 (IFN-α)</text>
<line x1="205.20" y1="366.30" x2="330.50" y2="366.30" stroke="#111" stroke-width="1.3"/>
<text x="234.60" y="379.74" font-size="6.4" text-anchor="middle" fill="#333">C1/C1</text>
<text x="307.10" y="379.84" font-size="6.4" text-anchor="middle" fill="#333">C2/C2</text>
<text x="0" y="0" font-size="6.5" text-anchor="middle" fill="#333" transform="translate(191.18 424.80) rotate(-90)">%CD107a+</text>
<line x1="205.70" y1="381.10" x2="205.70" y2="473.10" stroke="#111" stroke-width="1.3"/>
<line x1="203.10" y1="472.60" x2="261.25" y2="472.60" stroke="#111" stroke-width="1.3"/>
<text x="201.90" y="475.98" font-size="6.5" text-anchor="end" fill="#222">0</text>
<line x1="203.10" y1="449.85" x2="205.70" y2="449.85" stroke="#111" stroke-width="1.3"/>
<text x="201.90" y="453.23" font-size="6.5" text-anchor="end" fill="#222">20</text>
<line x1="203.10" y1="427.10" x2="205.70" y2="427.10" stroke="#111" stroke-width="1.3"/>
<text x="201.90" y="430.48" font-size="6.5" text-anchor="end" fill="#222">40</text>
<line x1="203.10" y1="404.35" x2="205.70" y2="404.35" stroke="#111" stroke-width="1.3"/>
<text x="201.90" y="407.73" font-size="6.5" text-anchor="end" fill="#222">60</text>
<line x1="203.10" y1="381.60" x2="205.70" y2="381.60" stroke="#111" stroke-width="1.3"/>
<text x="201.90" y="384.98" font-size="6.5" text-anchor="end" fill="#222">80</text>
<line x1="219.40" y1="472.60" x2="219.40" y2="475.50" stroke="#111" stroke-width="1.3"/>
<line x1="246.90" y1="472.60" x2="246.90" y2="475.50" stroke="#111" stroke-width="1.3"/>
<line x1="220.00" y1="422.80" x2="247.40" y2="418.90" stroke="#000" stroke-width="1.25"/>
<line x1="220.00" y1="432.80" x2="247.40" y2="432.80" stroke="#000" stroke-width="1.25"/>
<line x1="220.00" y1="438.40" x2="247.40" y2="441.00" stroke="#000" stroke-width="1.25"/>
<line x1="220.00" y1="441.40" x2="247.40" y2="439.80" stroke="#000" stroke-width="1.25"/>
<line x1="220.00" y1="457.30" x2="247.40" y2="459.00" stroke="#000" stroke-width="1.25"/>
<line x1="220.00" y1="457.70" x2="247.40" y2="462.10" stroke="#000" stroke-width="1.25"/>
<circle cx="220.00" cy="422.80" r="1.25" fill="#000"/>
<circle cx="247.40" cy="418.90" r="1.25" fill="#000"/>
<circle cx="220.00" cy="432.80" r="1.25" fill="#000"/>
<circle cx="247.40" cy="432.80" r="1.25" fill="#000"/>
<circle cx="220.00" cy="438.40" r="1.25" fill="#000"/>
<circle cx="247.40" cy="441.00" r="1.25" fill="#000"/>
<circle cx="220.00" cy="441.40" r="1.25" fill="#000"/>
<circle cx="247.40" cy="439.80" r="1.25" fill="#000"/>
<circle cx="220.00" cy="457.30" r="1.25" fill="#000"/>
<circle cx="247.40" cy="459.00" r="1.25" fill="#000"/>
<circle cx="220.00" cy="457.70" r="1.25" fill="#000"/>
<circle cx="247.40" cy="462.10" r="1.25" fill="#000"/>
<text x="219.20" y="487.88" font-size="6.5" text-anchor="middle" fill="#333">2DL1sp</text>
<text x="247.80" y="483.77" font-size="6.5" text-anchor="middle" fill="#333">2DL1+</text>
<text x="247.80" y="491.67" font-size="6.5" text-anchor="middle" fill="#333">2DS1+</text>
<line x1="277.80" y1="381.00" x2="277.80" y2="473.10" stroke="#111" stroke-width="1.3"/>
<line x1="275.20" y1="472.60" x2="333.25" y2="472.60" stroke="#111" stroke-width="1.3"/>
<text x="274.00" y="475.98" font-size="6.5" text-anchor="end" fill="#222">0</text>
<line x1="275.20" y1="449.83" x2="277.80" y2="449.83" stroke="#111" stroke-width="1.3"/>
<text x="274.00" y="453.20" font-size="6.5" text-anchor="end" fill="#222">20</text>
<line x1="275.20" y1="427.05" x2="277.80" y2="427.05" stroke="#111" stroke-width="1.3"/>
<text x="274.00" y="430.43" font-size="6.5" text-anchor="end" fill="#222">40</text>
<line x1="275.20" y1="404.27" x2="277.80" y2="404.27" stroke="#111" stroke-width="1.3"/>
<text x="274.00" y="407.65" font-size="6.5" text-anchor="end" fill="#222">60</text>
<line x1="275.20" y1="381.50" x2="277.80" y2="381.50" stroke="#111" stroke-width="1.3"/>
<text x="274.00" y="384.88" font-size="6.5" text-anchor="end" fill="#222">80</text>
<line x1="290.75" y1="472.60" x2="290.75" y2="475.50" stroke="#111" stroke-width="1.3"/>
<line x1="318.50" y1="472.60" x2="318.50" y2="475.50" stroke="#111" stroke-width="1.3"/>
<line x1="291.90" y1="392.50" x2="319.00" y2="399.80" stroke="#000" stroke-width="1.25"/>
<line x1="291.90" y1="396.80" x2="319.00" y2="397.10" stroke="#000" stroke-width="1.25"/>
<line x1="291.90" y1="397.70" x2="319.00" y2="401.20" stroke="#000" stroke-width="1.25"/>
<line x1="291.90" y1="407.50" x2="319.00" y2="401.20" stroke="#000" stroke-width="1.25"/>
<line x1="291.90" y1="407.50" x2="319.00" y2="407.20" stroke="#000" stroke-width="1.25"/>
<line x1="291.90" y1="409.20" x2="319.00" y2="411.50" stroke="#000" stroke-width="1.25"/>
<circle cx="291.90" cy="392.50" r="1.25" fill="#000"/>
<circle cx="319.00" cy="399.80" r="1.25" fill="#000"/>
<circle cx="291.90" cy="396.80" r="1.25" fill="#000"/>
<circle cx="319.00" cy="397.10" r="1.25" fill="#000"/>
<circle cx="291.90" cy="397.70" r="1.25" fill="#000"/>
<circle cx="319.00" cy="401.20" r="1.25" fill="#000"/>
<circle cx="291.90" cy="407.50" r="1.25" fill="#000"/>
<circle cx="319.00" cy="401.20" r="1.25" fill="#000"/>
<circle cx="291.90" cy="407.50" r="1.25" fill="#000"/>
<circle cx="319.00" cy="407.20" r="1.25" fill="#000"/>
<circle cx="291.90" cy="409.20" r="1.25" fill="#000"/>
<circle cx="319.00" cy="411.50" r="1.25" fill="#000"/>
<text x="292.90" y="487.88" font-size="6.5" text-anchor="middle" fill="#333">2DL1sp</text>
<text x="319.80" y="483.77" font-size="6.5" text-anchor="middle" fill="#333">2DL1+</text>
<text x="319.80" y="491.67" font-size="6.5" text-anchor="middle" fill="#333">2DS1+</text>
<text x="366.90" y="359.50" font-size="14.0" font-weight="bold" fill="#000" stroke="#000" stroke-width="0.15">I</text>
<text x="452.00" y="362.54" font-size="6.4" text-anchor="middle" fill="#333">K562 (IL-15)</text>
<line x1="388.80" y1="366.50" x2="515.00" y2="366.50" stroke="#111" stroke-width="1.3"/>
<text x="418.40" y="379.34" font-size="6.4" text-anchor="middle" fill="#333">C1/C1</text>
<text x="493.50" y="379.14" font-size="6.4" text-anchor="middle" fill="#333">C2/C2</text>
<text x="0" y="0" font-size="6.5" text-anchor="middle" fill="#333" transform="translate(374.77 427.60) rotate(-90)">%CD107a+</text>
<line x1="389.90" y1="383.30" x2="389.90" y2="475.30" stroke="#111" stroke-width="1.3"/>
<line x1="387.30" y1="474.80" x2="444.75" y2="474.80" stroke="#111" stroke-width="1.3"/>
<text x="386.10" y="478.18" font-size="6.5" text-anchor="end" fill="#222">0</text>
<line x1="387.30" y1="452.05" x2="389.90" y2="452.05" stroke="#111" stroke-width="1.3"/>
<text x="386.10" y="455.43" font-size="6.5" text-anchor="end" fill="#222">20</text>
<line x1="387.30" y1="429.30" x2="389.90" y2="429.30" stroke="#111" stroke-width="1.3"/>
<text x="386.10" y="432.68" font-size="6.5" text-anchor="end" fill="#222">40</text>
<line x1="387.30" y1="406.55" x2="389.90" y2="406.55" stroke="#111" stroke-width="1.3"/>
<text x="386.10" y="409.93" font-size="6.5" text-anchor="end" fill="#222">60</text>
<line x1="387.30" y1="383.80" x2="389.90" y2="383.80" stroke="#111" stroke-width="1.3"/>
<text x="386.10" y="387.18" font-size="6.5" text-anchor="end" fill="#222">80</text>
<line x1="403.50" y1="474.80" x2="403.50" y2="477.70" stroke="#111" stroke-width="1.3"/>
<line x1="430.60" y1="474.80" x2="430.60" y2="477.70" stroke="#111" stroke-width="1.3"/>
<line x1="404.10" y1="441.30" x2="431.50" y2="440.50" stroke="#000" stroke-width="1.25"/>
<line x1="404.10" y1="448.10" x2="431.50" y2="451.60" stroke="#000" stroke-width="1.25"/>
<line x1="404.10" y1="454.00" x2="431.50" y2="454.00" stroke="#000" stroke-width="1.25"/>
<line x1="404.10" y1="458.80" x2="431.50" y2="460.70" stroke="#000" stroke-width="1.25"/>
<line x1="404.10" y1="461.30" x2="431.50" y2="460.70" stroke="#000" stroke-width="1.25"/>
<line x1="404.10" y1="465.70" x2="431.50" y2="467.70" stroke="#000" stroke-width="1.25"/>
<circle cx="404.10" cy="441.30" r="1.25" fill="#000"/>
<circle cx="431.50" cy="440.50" r="1.25" fill="#000"/>
<circle cx="404.10" cy="448.10" r="1.25" fill="#000"/>
<circle cx="431.50" cy="451.60" r="1.25" fill="#000"/>
<circle cx="404.10" cy="454.00" r="1.25" fill="#000"/>
<circle cx="431.50" cy="454.00" r="1.25" fill="#000"/>
<circle cx="404.10" cy="458.80" r="1.25" fill="#000"/>
<circle cx="431.50" cy="460.70" r="1.25" fill="#000"/>
<circle cx="404.10" cy="461.30" r="1.25" fill="#000"/>
<circle cx="431.50" cy="460.70" r="1.25" fill="#000"/>
<circle cx="404.10" cy="465.70" r="1.25" fill="#000"/>
<circle cx="431.50" cy="467.70" r="1.25" fill="#000"/>
<text x="403.25" y="489.77" font-size="6.5" text-anchor="middle" fill="#333">2DL1sp</text>
<text x="431.90" y="486.27" font-size="6.5" text-anchor="middle" fill="#333">2DL1+</text>
<text x="431.90" y="494.17" font-size="6.5" text-anchor="middle" fill="#333">2DS1+</text>
<line x1="464.00" y1="383.20" x2="464.00" y2="475.30" stroke="#111" stroke-width="1.3"/>
<line x1="461.40" y1="474.80" x2="518.90" y2="474.80" stroke="#111" stroke-width="1.3"/>
<text x="460.20" y="478.18" font-size="6.5" text-anchor="end" fill="#222">0</text>
<line x1="461.40" y1="452.02" x2="464.00" y2="452.02" stroke="#111" stroke-width="1.3"/>
<text x="460.20" y="455.40" font-size="6.5" text-anchor="end" fill="#222">20</text>
<line x1="461.40" y1="429.25" x2="464.00" y2="429.25" stroke="#111" stroke-width="1.3"/>
<text x="460.20" y="432.62" font-size="6.5" text-anchor="end" fill="#222">40</text>
<line x1="461.40" y1="406.48" x2="464.00" y2="406.48" stroke="#111" stroke-width="1.3"/>
<text x="460.20" y="409.85" font-size="6.5" text-anchor="end" fill="#222">60</text>
<line x1="461.40" y1="383.70" x2="464.00" y2="383.70" stroke="#111" stroke-width="1.3"/>
<text x="460.20" y="387.07" font-size="6.5" text-anchor="end" fill="#222">80</text>
<line x1="477.50" y1="474.80" x2="477.50" y2="477.70" stroke="#111" stroke-width="1.3"/>
<line x1="505.00" y1="474.80" x2="505.00" y2="477.70" stroke="#111" stroke-width="1.3"/>
<line x1="478.50" y1="410.60" x2="505.60" y2="412.30" stroke="#000" stroke-width="1.25"/>
<line x1="478.50" y1="411.90" x2="505.60" y2="415.60" stroke="#000" stroke-width="1.25"/>
<line x1="478.50" y1="415.60" x2="505.60" y2="413.80" stroke="#000" stroke-width="1.25"/>
<line x1="478.50" y1="416.90" x2="505.60" y2="418.10" stroke="#000" stroke-width="1.25"/>
<line x1="478.50" y1="418.10" x2="505.60" y2="426.30" stroke="#000" stroke-width="1.25"/>
<line x1="478.50" y1="415.00" x2="505.60" y2="412.30" stroke="#000" stroke-width="1.25"/>
<circle cx="478.50" cy="410.60" r="1.25" fill="#000"/>
<circle cx="505.60" cy="412.30" r="1.25" fill="#000"/>
<circle cx="478.50" cy="411.90" r="1.25" fill="#000"/>
<circle cx="505.60" cy="415.60" r="1.25" fill="#000"/>
<circle cx="478.50" cy="415.60" r="1.25" fill="#000"/>
<circle cx="505.60" cy="413.80" r="1.25" fill="#000"/>
<circle cx="478.50" cy="416.90" r="1.25" fill="#000"/>
<circle cx="505.60" cy="418.10" r="1.25" fill="#000"/>
<circle cx="478.50" cy="418.10" r="1.25" fill="#000"/>
<circle cx="505.60" cy="426.30" r="1.25" fill="#000"/>
<circle cx="478.50" cy="415.00" r="1.25" fill="#000"/>
<circle cx="505.60" cy="412.30" r="1.25" fill="#000"/>
<text x="476.60" y="489.77" font-size="6.5" text-anchor="middle" fill="#333">2DL1sp</text>
<text x="506.25" y="486.27" font-size="6.5" text-anchor="middle" fill="#333">2DL1+</text>
<text x="506.25" y="494.17" font-size="6.5" text-anchor="middle" fill="#333">2DS1+</text>
<text x="422.7" y="112.6" font-size="9" font-weight="bold" fill="#111">B</text>
</g></svg></body></html>
